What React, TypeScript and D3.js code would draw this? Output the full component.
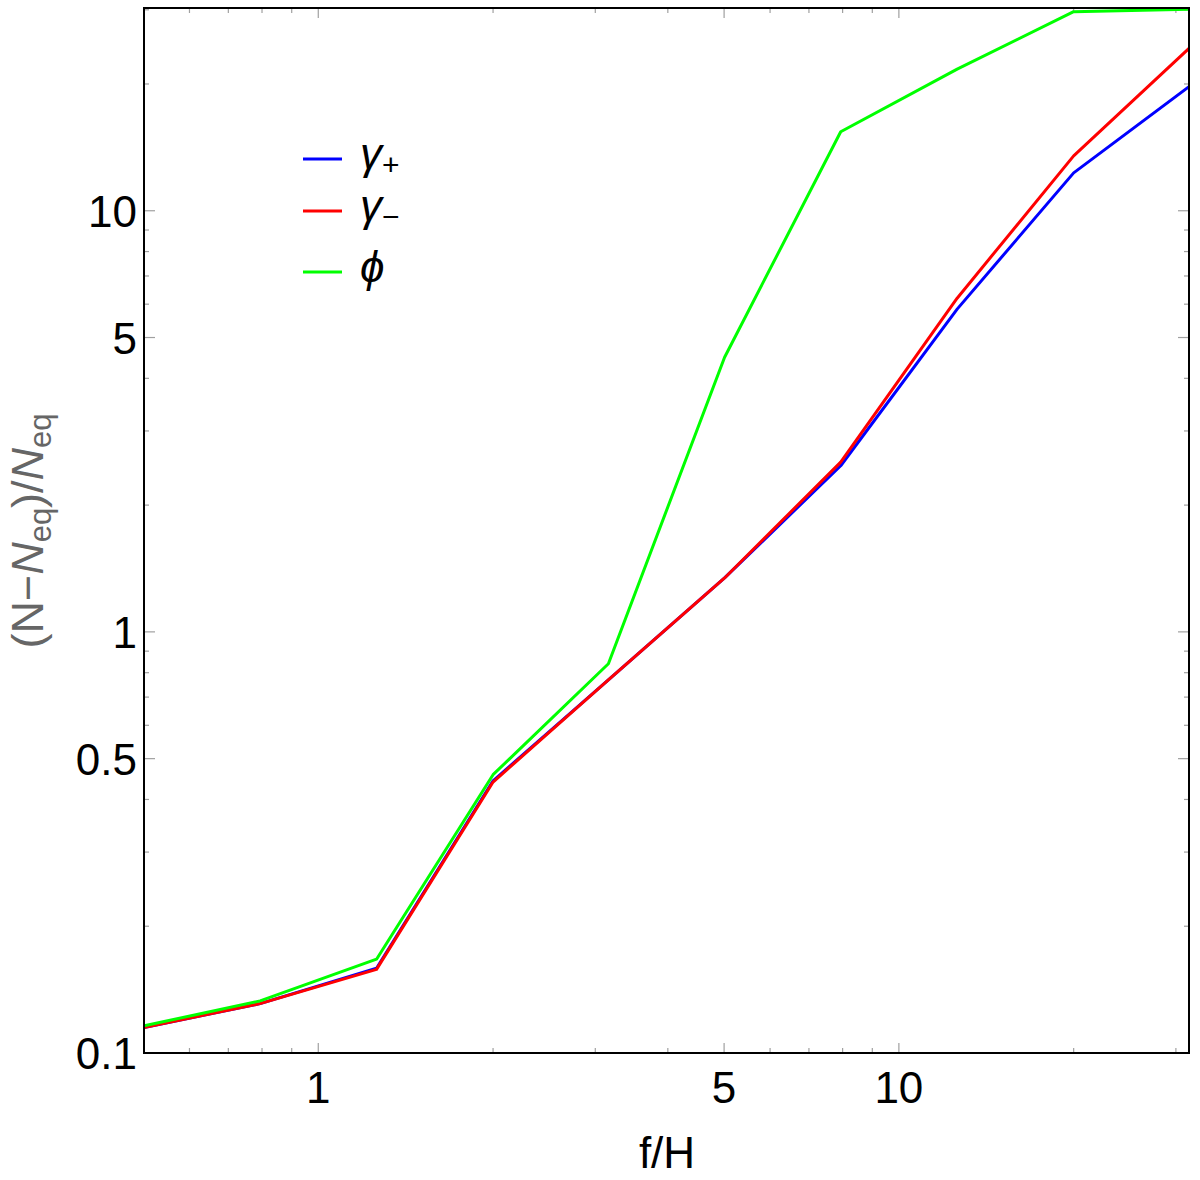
import React from 'react';
import { line, scaleLog } from 'd3';

// f/H sample points (log spaced)
const fH = [0.501, 0.794, 1.26, 2.0, 3.16, 5.01, 7.94, 12.6, 20.0, 31.6];
const gammaPlus = [0.115, 0.131, 0.159, 0.443, 0.769, 1.343, 2.48, 5.84, 12.3, 19.7];
const gammaMinus = [0.115, 0.131, 0.158, 0.44, 0.769, 1.343, 2.53, 6.2, 13.5, 24.3];
const phi = [0.116, 0.133, 0.167, 0.458, 0.84, 4.49, 15.4, 21.7, 29.7, 30.1];

const seriesNames = ['γ', 'γ', 'ϕ'];
const seriesSubs = ['+', '−', ''];
const seriesColors = ['#0000ff', '#ff0000', '#00ff00'];

const xMajor = [1, 5, 10];
const xMajorLabels = ['1', '5', '10'];
const yMajor = [0.1, 0.5, 1, 5, 10];
const yMajorLabels = ['0.1', '0.5', '1', '5', '10'];
const yDomainTop = 30.3;

const W = 1200;
const H = 1180;
const left = 144;
const right = 1189;
const top = 8;
const bottom = 1053;
const font = '"Liberation Sans", Arial, sans-serif';

const App: React.FC = () => {
  const x = scaleLog().domain([fH[0], fH[fH.length - 1]]).range([left, right]);
  const y = scaleLog().domain([0.1, yDomainTop]).range([bottom, top]);

  const path = line<number>()
    .x((_, i) => x(fH[i]))
    .y((d) => y(d));

  const allSeries = [gammaPlus, gammaMinus, phi];

  const xTicks = x.ticks();
  const yTicks = y.ticks();
  const tickColor = '#a0a0a0';

  return (
    <div style={{ position: 'absolute', left: 0, top: 0 }}>
      <svg width={W} height={H} style={{ display: 'block', background: '#fff' }}>
        <defs>
          <clipPath id="plotClip">
            <rect x={left} y={top} width={right - left} height={bottom - top} />
          </clipPath>
        </defs>

        {/* ticks on all four sides, pointing inward */}
        <g stroke={tickColor} strokeWidth={1.2}>
          {xTicks.map((t, i) => {
            const len = xMajor.includes(t) ? 10 : 5;
            const px = x(t);
            return (
              <g key={'xt' + i}>
                <line x1={px} x2={px} y1={bottom} y2={bottom - len} />
                <line x1={px} x2={px} y1={top} y2={top + len} />
              </g>
            );
          })}
          {yTicks.map((t, i) => {
            const len = yMajor.includes(t) ? 11 : 5;
            const py = y(t);
            return (
              <g key={'yt' + i}>
                <line x1={left} x2={left + len} y1={py} y2={py} />
                <line x1={right} x2={right - len} y1={py} y2={py} />
              </g>
            );
          })}
        </g>

        {/* data lines */}
        <g clipPath="url(#plotClip)">
          {allSeries.map((s, i) => (
            <path
              key={'s' + i}
              d={path(s) || ''}
              fill="none"
              stroke={seriesColors[i]}
              strokeWidth={3}
              strokeLinejoin="round"
            />
          ))}
        </g>

        {/* frame */}
        <rect
          x={left}
          y={top}
          width={right - left}
          height={bottom - top}
          fill="none"
          stroke="#000"
          strokeWidth={2}
        />

        {/* tick labels */}
        <g fontFamily={font} fontSize={44} fill="#000">
          {xMajor.map((t, i) => (
            <text key={'xl' + i} x={x(t)} y={bottom + 50} textAnchor="middle">
              {xMajorLabels[i]}
            </text>
          ))}
          {yMajor.map((t, i) => (
            <text key={'yl' + i} x={left - 7} y={y(t) + 16} textAnchor="end">
              {yMajorLabels[i]}
            </text>
          ))}
        </g>

        {/* axis labels */}
        <text
          x={667}
          y={1168}
          textAnchor="middle"
          fontFamily={font}
          fontSize={44}
          fill="#000"
        >
          f/H
        </text>
        <text
          transform="translate(43,531) rotate(-90)"
          textAnchor="middle"
          fontFamily={font}
          fontSize={45}
          fill="#666"
        >
          (N−<tspan fontStyle="italic">N</tspan>
          <tspan fontSize={31} dy={8}>eq</tspan>
          <tspan dy={-8}>)/</tspan>
          <tspan fontStyle="italic">N</tspan>
          <tspan fontSize={31} dy={8}>eq</tspan>
        </text>

        {/* legend */}
        <g fontFamily={font}>
          {seriesNames.map((name, i) => {
            const ly = [159, 211, 272][i];
            return (
              <g key={'lg' + i}>
                <line x1={303} x2={342} y1={ly} y2={ly} stroke={seriesColors[i]} strokeWidth={3} />
                <text x={360} y={ly + 10} fontSize={44} fill="#000">
                  <tspan fontStyle="italic">{name}</tspan>
                  {seriesSubs[i] && (
                    <tspan fontSize={30} dy={6}>
                      {seriesSubs[i]}
                    </tspan>
                  )}
                </text>
              </g>
            );
          })}
        </g>
      </svg>
    </div>
  );
};

export default App;
